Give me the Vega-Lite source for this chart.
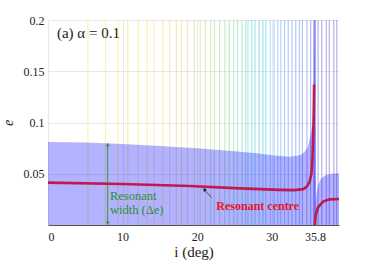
{
  "$schema": "https://vega.github.io/schema/vega-lite/v6.json",
  "autosize": "none",
  "width": 291,
  "height": 205,
  "padding": {"left": 48, "top": 20, "right": 35, "bottom": 37},
  "background": "white",
  "config": {
    "view": {"stroke": null},
    "font": "Liberation Serif",
    "axis": {"labelFont": "Liberation Serif", "titleFont": "Liberation Serif", "labelFontSize": 12, "labelColor": "#222", "titleColor": "#222", "titleFontWeight": "normal", "gridColor": "#e8e8e8", "ticks": false}
  },
  "datasets": {
    "lines": [
      {"i": 5.35}, {"i": 7.7}, {"i": 9.4}, {"i": 10.7}, {"i": 12.1}, {"i": 13.3},
      {"i": 14.2}, {"i": 15.4}, {"i": 16.3}, {"i": 17.2}, {"i": 17.9}, {"i": 18.7}, {"i": 19.6}, {"i": 20.4}, {"i": 21.1}, {"i": 21.8}, {"i": 22.3}, {"i": 23.0}, {"i": 23.7}, {"i": 24.3}, {"i": 24.9}, {"i": 25.4}, {"i": 26.0}, {"i": 26.5},
      {"i": 26.8}, {"i": 27.3}, {"i": 27.75}, {"i": 28.3}, {"i": 28.8}, {"i": 29.2}, {"i": 29.8}, {"i": 30.3}, {"i": 30.8}, {"i": 31.2}, {"i": 31.7}, {"i": 32.2}, {"i": 32.7}, {"i": 33.2}, {"i": 33.7}, {"i": 34.1}, {"i": 34.7}, {"i": 35.2}, {"i": 36.2}, {"i": 36.7}, {"i": 37.3}, {"i": 37.7}, {"i": 38.3}, {"i": 38.7}
    ],
    "area": [
      {"part": "a", "i": 0, "e": 0.081}, {"part": "a", "i": 5, "e": 0.0805}, {"part": "a", "i": 10, "e": 0.079}, {"part": "a", "i": 15, "e": 0.077}, {"part": "a", "i": 20, "e": 0.075}, {"part": "a", "i": 25, "e": 0.072}, {"part": "a", "i": 28, "e": 0.070}, {"part": "a", "i": 30, "e": 0.068}, {"part": "a", "i": 32.4, "e": 0.0667}, {"part": "a", "i": 33.8, "e": 0.068}, {"part": "a", "i": 34.4, "e": 0.0715}, {"part": "a", "i": 34.8, "e": 0.0758}, {"part": "a", "i": 35.1, "e": 0.0846}, {"part": "a", "i": 35.3, "e": 0.0927}, {"part": "a", "i": 35.45, "e": 0.1008}, {"part": "a", "i": 35.6, "e": 0.13}, {"part": "a", "i": 35.75, "e": 0.2},
      {"part": "b", "i": 35.85, "e": 0.02}, {"part": "b", "i": 36.0, "e": 0.032}, {"part": "b", "i": 36.2, "e": 0.039}, {"part": "b", "i": 36.6, "e": 0.0455}, {"part": "b", "i": 37.3, "e": 0.0488}, {"part": "b", "i": 38, "e": 0.050}, {"part": "b", "i": 39, "e": 0.0504}
    ],
    "centre": [
      {"part": "a", "i": 0, "e": 0.0413}, {"part": "a", "i": 10, "e": 0.040}, {"part": "a", "i": 19, "e": 0.038}, {"part": "a", "i": 25, "e": 0.036}, {"part": "a", "i": 31, "e": 0.0343}, {"part": "a", "i": 33, "e": 0.034}, {"part": "a", "i": 34.2, "e": 0.035}, {"part": "a", "i": 34.7, "e": 0.0374}, {"part": "a", "i": 35.07, "e": 0.0423}, {"part": "a", "i": 35.3, "e": 0.050}, {"part": "a", "i": 35.43, "e": 0.063}, {"part": "a", "i": 35.52, "e": 0.083}, {"part": "a", "i": 35.6, "e": 0.102}, {"part": "a", "i": 35.66, "e": 0.137},
      {"part": "b", "i": 35.76, "e": 0.0}, {"part": "b", "i": 35.88, "e": 0.0098}, {"part": "b", "i": 36.19, "e": 0.0173}, {"part": "b", "i": 36.86, "e": 0.0228}, {"part": "b", "i": 37.75, "e": 0.025}, {"part": "b", "i": 39, "e": 0.0254}
    ]
  },
  "layer": [
    {
      "data": {"name": "lines"},
      "mark": {"type": "rule", "strokeWidth": 1.2, "opacity": 0.42},
      "encoding": {
        "x": {"field": "i", "type": "quantitative", "scale": {"domain": [0, 39], "nice": false, "zero": false},
          "axis": {"values": [0, 10, 20, 30, 35.8], "labelExpr": "datum.value + ''", "title": "i (deg)", "titleFontSize": 15, "titlePadding": 2, "labelPadding": 6, "domainColor": "#555", "grid": true}},
        "color": {"field": "i", "type": "quantitative", "legend": null,
          "scale": {"domain": [5, 13, 17, 21, 24, 27, 30, 33, 36, 39], "range": ["#f4e840", "#f2e040", "#efc870", "#c0d060", "#70d080", "#40d0c0", "#50b0f0", "#5080f0", "#4848e0", "#6040c0"]}}
      }
    },
    {
      "data": {"values": [{"i": 35.72}]},
      "mark": {"type": "rule", "strokeWidth": 2.5, "color": "#4848f0", "opacity": 0.55},
      "encoding": {"x": {"field": "i", "type": "quantitative"}}
    },
    {
      "data": {"name": "area"},
      "mark": {"type": "area", "color": "#0000ff", "fillOpacity": 0.3, "clip": true},
      "encoding": {
        "x": {"field": "i", "type": "quantitative"},
        "y": {"field": "e", "type": "quantitative", "scale": {"domain": [0, 0.2], "nice": false},
          "axis": {"values": [0.05, 0.1, 0.15, 0.2], "labelExpr": "datum.value + ''", "title": "e", "titleFontStyle": "italic", "titleFontSize": 14, "titlePadding": 8, "labelPadding": 4, "domain": false, "grid": true}},
        "detail": {"field": "part"}
      }
    },
    {
      "data": {"name": "centre"},
      "mark": {"type": "line", "color": "#c2184e", "strokeWidth": 2.6, "clip": true},
      "encoding": {
        "x": {"field": "i", "type": "quantitative"},
        "y": {"field": "e", "type": "quantitative"},
        "detail": {"field": "part"}
      }
    },
    {
      "data": {"values": [{"i": 8, "e": 0.0005, "e2": 0.0795}]},
      "mark": {"type": "rule", "color": "#2f8f2f", "strokeWidth": 0.9},
      "encoding": {"x": {"field": "i", "type": "quantitative"}, "y": {"field": "e", "type": "quantitative"}, "y2": {"field": "e2"}}
    },
    {
      "data": {"values": [{"i": 8, "e": 0.0785, "dir": "up"}, {"i": 8, "e": 0.0018, "dir": "down"}]},
      "mark": {"type": "point", "filled": true, "color": "#2f8f2f", "size": 14, "opacity": 1},
      "encoding": {"x": {"field": "i", "type": "quantitative"}, "y": {"field": "e", "type": "quantitative"},
        "shape": {"field": "dir", "type": "nominal", "scale": {"domain": ["up", "down"], "range": ["triangle-up", "triangle-down"]}, "legend": null}}
    },
    {
      "data": {"values": [{"i": 8.3, "e": 0.0285, "label": "Resonant"}, {"i": 8.3, "e": 0.0142, "label": "width (Δe)"}]},
      "mark": {"type": "text", "align": "left", "baseline": "middle", "fontSize": 12.5, "color": "#2f8f2f", "font": "Liberation Serif"},
      "encoding": {"x": {"field": "i", "type": "quantitative"}, "y": {"field": "e", "type": "quantitative"}, "text": {"field": "label"}}
    },
    {
      "data": {"values": [{"i": 21.9, "e": 0.0266, "i2": 21.0, "e2": 0.0342}]},
      "mark": {"type": "rule", "color": "#333", "strokeWidth": 0.8},
      "encoding": {"x": {"field": "i", "type": "quantitative"}, "x2": {"field": "i2"}, "y": {"field": "e", "type": "quantitative"}, "y2": {"field": "e2"}}
    },
    {
      "data": {"values": [{"i": 20.95, "e": 0.0346}]},
      "mark": {"type": "point", "shape": "triangle-up", "filled": true, "color": "#111", "size": 14, "angle": 318, "opacity": 1},
      "encoding": {"x": {"field": "i", "type": "quantitative"}, "y": {"field": "e", "type": "quantitative"}}
    },
    {
      "data": {"values": [{"i": 28.1, "e": 0.0185, "label": "Resonant centre"}]},
      "mark": {"type": "text", "align": "center", "baseline": "middle", "fontSize": 12, "fontWeight": "bold", "color": "#e8141e", "font": "Liberation Serif"},
      "encoding": {"x": {"field": "i", "type": "quantitative"}, "y": {"field": "e", "type": "quantitative"}, "text": {"field": "label"}}
    },
    {
      "data": {"values": [{"i": 1.2, "e": 0.1875, "label": "(a) α = 0.1"}]},
      "mark": {"type": "text", "align": "left", "baseline": "middle", "fontSize": 15, "color": "#222", "font": "Liberation Serif"},
      "encoding": {"x": {"field": "i", "type": "quantitative"}, "y": {"field": "e", "type": "quantitative"}, "text": {"field": "label"}}
    }
  ]
}
